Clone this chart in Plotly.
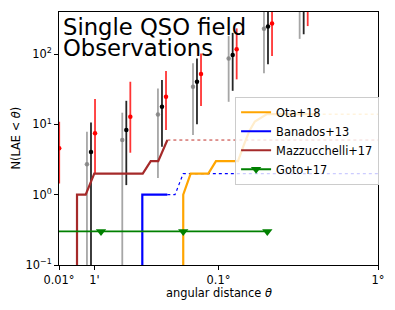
import plotly.graph_objects as go

# ---------------- data ----------------
# observational N(<theta) error-bar points (theta in degrees)
grey_theta = [0.01497, 0.02493, 0.04172, 0.0692, 0.1158, 0.1928, 0.3227]
grey_val = [2.71, 6.0, 13.9, 34.4, 87.1, 229.7, 520.0]
grey_hi = [7.87, 14.7, 32.6, 74.0, 180.8, 500.0, 1100.0]
grey_lo = [0.01, 0.01, 1.73, 7.06, 21.0, 53.3, 165.0]

black_theta = [0.01587, 0.02642, 0.04422, 0.0733, 0.1227, 0.2043, 0.342]
black_val = [4.05, 8.32, 17.8, 40.5, 97.1, 248.5, 560.0]
black_hi = [10.7, 21.7, 42.8, 87.1, 201.0, 550.0, 1200.0]
black_lo = [0.01, 1.37, 4.82, 10.1, 30.1, 71.6, 192.0]

red_theta = [0.01003, 0.01682, 0.02800, 0.04687, 0.0777, 0.1300, 0.2166, 0.3625]
red_val = [4.57, 7.47, 12.9, 24.8, 52.1, 117.0, 274.0, 600.0]
red_hi = [10.9, 23.0, 40.5, 57.5, 102.6, 232.8, 560.0, 1300.0]
red_lo = [1.45, 1.97, 3.96, 8.32, 18.3, 43.8, 94.0, 251.0]

# cumulative counts from the literature
ota_theta = [0.0601, 0.0601, 0.0669, 0.0863, 0.0964, 0.1325, 0.1437, 0.1558, 0.1690, 0.2014, 0.4127]
ota_n = [0.001, 1, 2, 2, 3, 3, 5, 8, 11, 14, 14]
ota_ext_theta = [0.4127, 1.0]
ota_ext_n = [14, 14]

banados_theta = [0.03329, 0.03329, 0.04775]
banados_n = [0.001, 1, 1]
banados_ext_theta = [0.04775, 0.05337, 0.0601, 1.0]
banados_ext_n = [1, 1, 2, 2]

mazz_theta = [0.01297, 0.01297, 0.0147, 0.01664, 0.0335, 0.0376, 0.0419, 0.0478]
mazz_n = [0.001, 1, 1, 2, 2, 3, 3, 6]
mazz_ext_theta = [0.0478, 1.0]
mazz_ext_n = [6, 6]

goto_theta = [0.005, 0.01834, 0.0601, 0.2023]
goto_n = [0.3, 0.3, 0.3, 0.3]

x_tickvals = [0.01, 1 / 60, 0.1, 1.0]
x_ticktext = ["0.01°", "1'", "0.1°", "1°"]
y_tickvals = [0.1, 1, 10, 100]
y_ticktext = ["10<sup>−1</sup>", "10<sup>0</sup>", "10<sup>1</sup>", "10<sup>2</sup>"]

title_lines = ["Single QSO field", "Observations"]

FONT = "DejaVu Sans"
FS = 11.4

fig = go.Figure()


def err_trace(th, v, hi, lo, col, mcol):
    fig.add_trace(go.Scatter(
        x=th, y=v, mode="markers",
        marker=dict(color=mcol, size=4.5),
        error_y=dict(type="data", symmetric=False,
                     array=[h - a for h, a in zip(hi, v)],
                     arrayminus=[a - l for a, l in zip(v, lo)],
                     color=col, thickness=1.8, width=0),
        showlegend=False, hoverinfo="skip"))


err_trace(grey_theta, grey_val, grey_hi, grey_lo, "rgba(128,128,128,0.7)", "rgba(128,128,128,0.85)")
err_trace(black_theta, black_val, black_hi, black_lo, "rgba(0,0,0,0.85)", "black")
err_trace(red_theta, red_val, red_hi, red_lo, "rgba(255,0,0,0.8)", "red")

ORANGE = "#FFA500"
BLUE = "#0000FF"
BROWN = "#A52A2A"
GREEN = "#008000"

# dotted extensions
fig.add_trace(go.Scatter(x=ota_ext_theta, y=ota_ext_n, mode="lines",
                         line=dict(color=ORANGE, width=1, dash="dot"), showlegend=False))
fig.add_trace(go.Scatter(x=banados_ext_theta, y=banados_ext_n, mode="lines",
                         line=dict(color=BLUE, width=1.2, dash="dot"), showlegend=False))
fig.add_trace(go.Scatter(x=mazz_ext_theta, y=mazz_ext_n, mode="lines",
                         line=dict(color="#C0302A", width=1, dash="dot"), showlegend=False))

fig.add_trace(go.Scatter(x=ota_theta, y=ota_n, mode="lines", name="Ota+18",
                         line=dict(color=ORANGE, width=2.2)))
fig.add_trace(go.Scatter(x=banados_theta, y=banados_n, mode="lines", name="Banados+13",
                         line=dict(color=BLUE, width=2.2)))
fig.add_trace(go.Scatter(x=mazz_theta, y=mazz_n, mode="lines", name="Mazzucchelli+17",
                         line=dict(color=BROWN, width=2.2)))
fig.add_trace(go.Scatter(x=goto_theta, y=goto_n, mode="lines+markers", name="Goto+17",
                         line=dict(color=GREEN, width=1.8),
                         marker=dict(symbol="triangle-down", size=9, color=GREEN)))

axis_common = dict(showline=True, linecolor="black", linewidth=1, mirror=True,
                   ticks="outside", ticklen=4, tickcolor="black", showgrid=False,
                   zeroline=False, tickfont=dict(family=FONT, size=FS, color="black"))

fig.update_xaxes(type="log", range=[-2, 0], tickvals=x_tickvals, ticktext=x_ticktext,
                 **axis_common)
fig.update_yaxes(type="log", range=[-1, 2.6], tickvals=y_tickvals, ticktext=y_ticktext,
                 **axis_common)

big = "<span style='font-size:22.7px'>%s</span>"
title_text = "<br>".join(big % t for t in title_lines)

# page body has an 8px margin: figure is 387x302 so that it fits the 395x310 window
fig.update_layout(
    width=387, height=302,
    margin=dict(l=51, r=17, t=4, b=45),
    plot_bgcolor="white", paper_bgcolor="white",
    font=dict(family=FONT, size=FS, color="black"),
    legend=dict(x=0.552, y=0.665, xanchor="left", yanchor="top",
                bgcolor="rgba(255,255,255,0.8)", bordercolor="#CCCCCC", borderwidth=1,
                font=dict(family=FONT, size=FS), tracegroupgap=0),
    annotations=[
        dict(text=title_text, xref="paper", yref="paper", x=0, y=1,
             xanchor="left", yanchor="top", align="left", xshift=2, yshift=0,
             showarrow=False, font=dict(family=FONT, size=16, color="black")),
        dict(text="angular distance <i>θ</i>", xref="paper", yref="paper", x=0.5, y=0,
             xanchor="center", yanchor="middle", yshift=-28, showarrow=False,
             font=dict(family=FONT, size=FS)),
        dict(text="N(LAE &lt; <i>θ</i>)", xref="paper", yref="paper", x=0, y=0.5,
             xanchor="center", yanchor="middle", xshift=-44, textangle=-90, showarrow=False,
             font=dict(family=FONT, size=FS)),
    ],
)

fig.write_html("out.html")
